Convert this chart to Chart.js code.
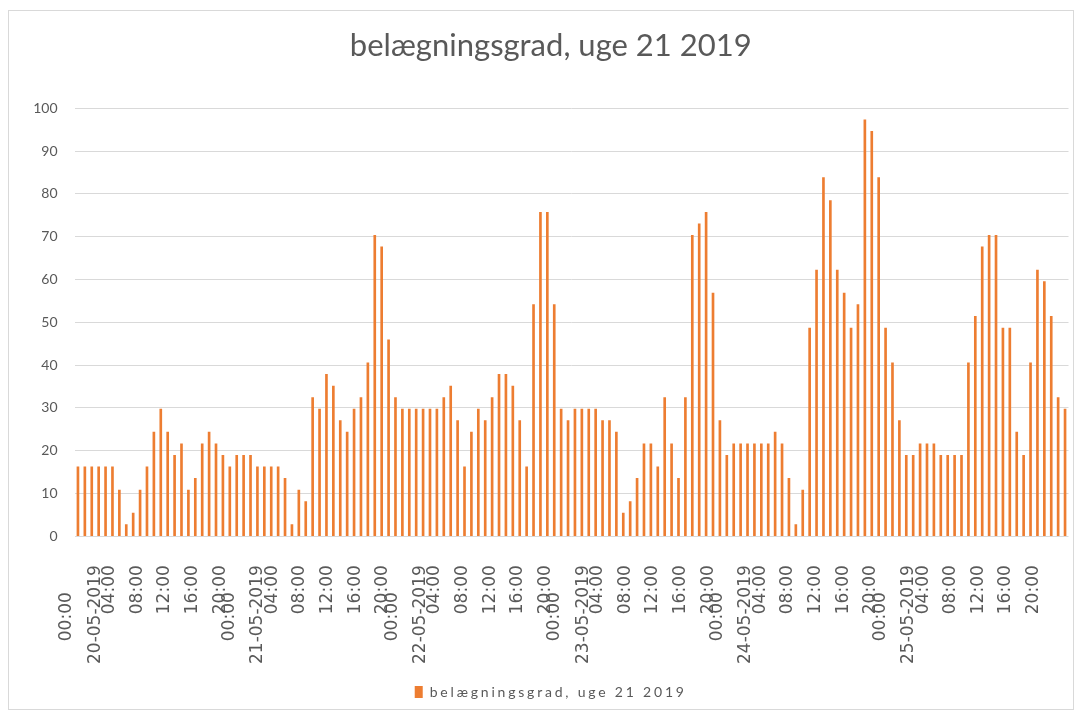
<!DOCTYPE html>
<html>
<head>
<meta charset="utf-8">
<title>belægningsgrad, uge 21 2019</title>
<script src="https://cdn.jsdelivr.net/npm/chart.js@4.4.1/dist/chart.umd.min.js"></script>
<style>
    html, body { margin: 0; padding: 0; background: #fff; }
    #frame { position: absolute; left: 8px; top: 10px; width: 1064px; height: 698px; border: 1px solid #d9d9d9; }
    canvas { display: block; }
</style>
</head>
<body>
<div id="frame"><canvas id="chart"></canvas></div>
<script>
const chartTitle = 'belægningsgrad, uge 21 2019';

// dates shown on the second label level
const days = ['20-05-2019', '21-05-2019', '22-05-2019', '23-05-2019', '24-05-2019', '25-05-2019'];
const midnightLabel = '00:00';
const hourLabels = ['04:00', '08:00', '12:00', '16:00', '20:00'];

// hourly occupancy in percent, one array per day (00:00 .. 23:00)
const day20 = [16.2, 16.2, 16.2, 16.2, 16.2, 16.2, 10.8, 2.7, 5.4, 10.8, 16.2, 24.3, 29.7, 24.3, 18.9, 21.6, 10.8, 13.5, 21.6, 24.3, 21.6, 18.9, 16.2, 18.9];
const day21 = [18.9, 18.9, 16.2, 16.2, 16.2, 16.2, 13.5, 2.7, 10.8, 8.1, 32.4, 29.7, 37.8, 35.1, 27.0, 24.3, 29.7, 32.4, 40.5, 70.3, 67.6, 45.9, 32.4, 29.7];
const day22 = [29.7, 29.7, 29.7, 29.7, 29.7, 32.4, 35.1, 27.0, 16.2, 24.3, 29.7, 27.0, 32.4, 37.8, 37.8, 35.1, 27.0, 16.2, 54.1, 75.7, 75.7, 54.1, 29.7, 27.0];
const day23 = [29.7, 29.7, 29.7, 29.7, 27.0, 27.0, 24.3, 5.4, 8.1, 13.5, 21.6, 21.6, 16.2, 32.4, 21.6, 13.5, 32.4, 70.3, 73.0, 75.7, 56.8, 27.0, 18.9, 21.6];
const day24 = [21.6, 21.6, 21.6, 21.6, 21.6, 24.3, 21.6, 13.5, 2.7, 10.8, 48.6, 62.2, 83.8, 78.4, 62.2, 56.8, 48.6, 54.1, 97.3, 94.6, 83.8, 48.6, 40.5, 27.0];
const day25 = [18.9, 18.9, 21.6, 21.6, 21.6, 18.9, 18.9, 18.9, 18.9, 40.5, 51.4, 67.6, 70.3, 70.3, 48.6, 48.6, 24.3, 18.9, 40.5, 62.2, 59.5, 51.4, 32.4, 29.7];

const yTicks = { min: 0, max: 100, step: 10 };

const TEXT_GREY = '#595959';
const GRID_GREY = '#d9d9d9';
const BAR_ORANGE = '#ED7D31';

const occupancy = [day20, day21, day22, day23, day24, day25].flat();
const points = occupancy.map((value, index) => ({ x: index, y: value }));

// Excel lays its two label levels out a bit tighter than the bars
const LABEL_SQUEEZE = 0.982;

function buildXTicks() {
    const ticks = [];
    days.forEach((day, d) => {
        const start = d * 24 * LABEL_SQUEEZE;
        // trailing spaces push the midnight label away from the axis, like the reference
        ticks.push({ value: start - 1.6, text: midnightLabel + '     ' });
        ticks.push({ value: start + 2.5, text: day });
        hourLabels.forEach(h => {
            ticks.push({ value: start + parseInt(h, 10) + 0.6, text: h });
        });
    });
    return ticks.sort((a, b) => a.value - b.value);
}

// widen the legend text with letter spacing
const spacedLegend = {
    id: 'spacedLegend',
    afterInit(chart) {
        const legend = chart.legend;
        if (!legend) return;
        ['fit', 'draw'].forEach(name => {
            const original = legend[name].bind(legend);
            legend[name] = (...args) => {
                const ctx = chart.ctx;
                ctx.save();
                ctx.letterSpacing = '2.8px';
                const result = original(...args);
                ctx.restore();
                return result;
            };
        });
    }
};

new Chart(document.getElementById('chart'), {
    type: 'bar',
    data: {
        datasets: [{
            label: chartTitle,
            data: points,
            backgroundColor: BAR_ORANGE,
            barThickness: 2,
        }]
    },
    options: {
        responsive: true,
        maintainAspectRatio: false,
        animation: false,
        layout: { padding: { left: 24, right: 4.5, top: 0, bottom: 0 } },
        plugins: {
            title: {
                display: true,
                text: chartTitle,
                color: TEXT_GREY,
                font: { family: 'Lato', size: 31, weight: 'normal' },
                padding: { top: 16, bottom: 44 },
            },
            legend: {
                position: 'bottom',
                labels: {
                    color: TEXT_GREY,
                    font: { family: 'Lato', size: 14 },
                    boxWidth: 8,
                    boxHeight: 12,
                    padding: 1,
                },
            },
            tooltip: { enabled: false },
        },
        scales: {
            x: {
                type: 'linear',
                offset: false,
                min: -0.5,
                max: occupancy.length - 0.5,
                grid: { display: false, drawTicks: false },
                border: { display: false },
                afterBuildTicks: axis => { axis.ticks = buildXTicks(); },
                // labels may hang past the plot edges, as in the reference
                afterFit: axis => {
                    axis.paddingLeft = 0;
                    axis.paddingRight = 0;
                    axis.height -= 9;
                },
                ticks: {
                    autoSkip: false,
                    minRotation: 90,
                    maxRotation: 90,
                    padding: 29,
                    color: TEXT_GREY,
                    font: { family: 'DejaVu Sans', size: 17 },
                    callback: (value, index, ticks) => ticks[index].text,
                },
            },
            y: {
                min: yTicks.min,
                max: yTicks.max,
                grid: { color: GRID_GREY, lineWidth: 1, drawTicks: false },
                border: { display: false },
                afterFit: axis => { axis.width = 41.5; },
                ticks: {
                    stepSize: yTicks.step,
                    padding: 17,
                    color: TEXT_GREY,
                    font: { family: 'Lato', size: 14 },
                },
            },
        },
    },
    plugins: [spacedLegend],
});
</script>
</body>
</html>
